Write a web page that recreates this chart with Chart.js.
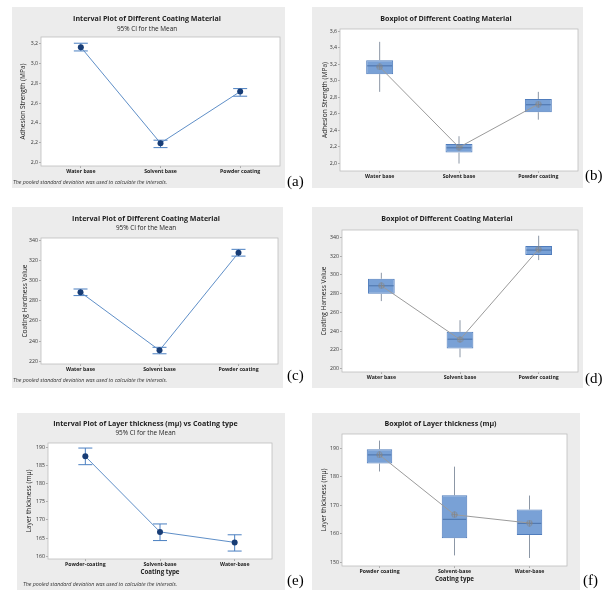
<!DOCTYPE html>
<html><head><meta charset="utf-8">
<script src="https://cdn.jsdelivr.net/npm/chart.js@4/dist/chart.umd.min.js"></script>
<style>
html,body{margin:0;padding:0;background:#fff;width:605px;height:602px;overflow:hidden;position:relative;font-family:'Open Sans',sans-serif}
.panel{position:absolute;background:#ececec}
.panel canvas{position:absolute;left:0;top:0}
.note{position:absolute;font-style:italic;font-size:5.3px;line-height:7px;color:#333;white-space:nowrap}
.lab{position:absolute;font-family:'Liberation Serif',serif;font-size:15px;line-height:16px;color:#000;white-space:nowrap}
</style></head><body>
<script>
// ---------- DATA ----------
const catsCoating = ['Water base', 'Solvent base', 'Powder coating'];
const catsThickInterval = ['Powder-coating', 'Solvent-base', 'Water-base'];
const catsThickBox = ['Powder coating', 'Solvent-base', 'Water-base'];

// (a) Adhesion strength interval plot
const adhMean = [3.167, 2.196, 2.718];
const adhCiLow = [3.129, 2.151, 2.671];
const adhCiHigh = [3.207, 2.226, 2.748];
const adhTicksA = [2.0, 2.2, 2.4, 2.6, 2.8, 3.0, 3.2];
// (b) Adhesion strength boxplot
const adhMin = [2.866, 2.00, 2.53];
const adhQ1 = [3.08, 2.133, 2.62];
const adhMed = [3.18, 2.19, 2.71];
const adhQ3 = [3.249, 2.237, 2.78];
const adhMax = [3.47, 2.33, 2.866];
const adhTicksB = [2.0, 2.2, 2.4, 2.6, 2.8, 3.0, 3.2, 3.4, 3.6];
// (c) Hardness interval plot
const hardMean = [288.4, 231.0, 327.4];
const hardCiLow = [285.1, 227.6, 324.1];
const hardCiHigh = [291.6, 234.0, 330.8];
const hardTicksC = [220, 240, 260, 280, 300, 320, 340];
// (d) Hardness boxplot
const hardMin = [272.0, 212.1, 315.7];
const hardQ1 = [279.7, 221.4, 321.1];
const hardMed = [288.3, 231.4, 326.4];
const hardQ3 = [295.8, 239.2, 330.7];
const hardMax = [302.2, 251.6, 341.7];
const hardTicksD = [200, 220, 240, 260, 280, 300, 320, 340];
// (e) Layer thickness interval plot
const thickMean = [187.6, 166.7, 163.8];
const thickCiLow = [185.3, 164.3, 161.4];
const thickCiHigh = [189.9, 168.9, 165.9];
const thickTicksE = [160, 165, 170, 175, 180, 185, 190];
// (f) Layer thickness boxplot
const thickMin = [181.8, 152.5, 151.6];
const thickQ1 = [184.6, 158.5, 159.6];
const thickMed = [187.6, 165.1, 163.7];
const thickQ3 = [189.6, 173.5, 168.5];
const thickMax = [192.6, 183.5, 173.4];
const thickTicksF = [150, 160, 170, 180, 190];

const titleInterval = 'Interval Plot of Different Coating Material';
const titleBox = 'Boxplot of Different Coating Material';
const subCI = '95% CI for the Mean';
const footNote = 'The pooled standard deviation was used to calculate the intervals.';

// ---------- STYLE ----------
const FONT = "'Open Sans', 'Noto Sans', sans-serif";
const LH = 1.2, TS = 7.1, SS = 6.4, YTS = 6.6, XTS = 6.2, TICK = 5.2;
const PADL = 2;

const meanImg = (() => {
  const c = document.createElement('canvas'); c.width = 7; c.height = 7;
  const g = c.getContext('2d');
  g.strokeStyle = '#858585'; g.lineWidth = 0.8;
  g.beginPath(); g.arc(3.5, 3.5, 2.7, 0, Math.PI * 2); g.stroke();
  g.beginPath(); g.moveTo(0.8, 3.5); g.lineTo(6.2, 3.5); g.moveTo(3.5, 0.8); g.lineTo(3.5, 6.2); g.stroke();
  return c;
})();

const plotFrame = {
  id: 'plotFrame',
  beforeDraw(chart) {
    const {ctx, chartArea: a} = chart;
    ctx.save(); ctx.fillStyle = '#fff'; ctx.fillRect(a.left, a.top, a.width, a.height); ctx.restore();
  },
  afterDraw(chart) {
    const {ctx, chartArea: a} = chart;
    ctx.save(); ctx.strokeStyle = '#bdbdbd'; ctx.lineWidth = 0.8;
    ctx.strokeRect(a.left, a.top, a.width, a.height); ctx.restore();
  }
};

const ciBars = {
  id: 'ciBars',
  beforeDatasetsDraw(chart, args, opts) {
    if (!opts || !opts.low) return;
    const {ctx, scales: {x, y}} = chart;
    ctx.save(); ctx.strokeStyle = '#4a7fc1'; ctx.lineWidth = 1;
    opts.low.forEach((lo, i) => {
      const px = x.getPixelForValue(i);
      const yl = y.getPixelForValue(lo), yh = y.getPixelForValue(opts.high[i]);
      const c = 7;
      ctx.beginPath();
      ctx.moveTo(px, yl); ctx.lineTo(px, yh);
      ctx.moveTo(px - c, yl); ctx.lineTo(px + c, yl);
      ctx.moveTo(px - c, yh); ctx.lineTo(px + c, yh);
      ctx.stroke();
    });
    ctx.restore();
  }
};

const boxParts = {
  id: 'boxParts',
  afterDatasetDraw(chart, args, opts) {
    if (args.index !== 0 || !opts || !opts.min) return;
    const {ctx, scales: {y}} = chart;
    ctx.save(); ctx.lineWidth = 1;
    args.meta.data.forEach((bar, i) => {
      const px = bar.x, hw = bar.width / 2;
      ctx.strokeStyle = '#8c97a6';
      ctx.beginPath();
      ctx.moveTo(px, y.getPixelForValue(opts.q3[i])); ctx.lineTo(px, y.getPixelForValue(opts.max[i]));
      ctx.moveTo(px, y.getPixelForValue(opts.q1[i])); ctx.lineTo(px, y.getPixelForValue(opts.min[i]));
      ctx.stroke();
      ctx.strokeStyle = '#4a72aa';
      const ym = y.getPixelForValue(opts.med[i]);
      ctx.beginPath(); ctx.moveTo(px - hw + 1, ym); ctx.lineTo(px + hw - 1, ym); ctx.stroke();
    });
    ctx.restore();
  }
};

function makePanel(P) {
  const [ox, oy, W, H] = P.gray;
  const div = document.createElement('div'); div.className = 'panel';
  Object.assign(div.style, {left: ox + 'px', top: oy + 'px', width: W + 'px', height: H + 'px'});
  const cv = document.createElement('canvas');
  cv.width = W; cv.height = H; cv.style.width = W + 'px'; cv.style.height = H + 'px';
  div.appendChild(cv); document.body.appendChild(div);

  const A = {l: P.area[0] - ox, t: P.area[1] - oy, r: P.area[2] - ox, b: P.area[3] - oy};
  const tc = P.titleY - oy;
  const tPadTop = tc - TS * LH / 2;
  const tEnd = tPadTop + TS * LH;
  let tPadBot = 0, sPadTop = 0, sPadBot = 0;
  if (P.sub) {
    const sc = P.subY - oy;
    sPadTop = Math.max(0, sc - SS * LH / 2 - tEnd);
    sPadBot = A.t - (tEnd + sPadTop + SS * LH);
  } else {
    tPadBot = A.t - tEnd;
  }
  const XH = P.xTitle ? (P.xTitleY - oy) - A.b + XTS * LH / 2 : 12;
  const ytPad = (P.yTitleX - ox) - PADL - YTS * LH / 2;

  let datasets, type, pluginOpts = {}, extra;
  if (P.kind === 'box') {
    type = 'bar';
    datasets = [
      {type: 'bar', data: P.q1.map((v, i) => [v, P.q3[i]]), backgroundColor: '#79a1d6', borderColor: '#4f7cbc',
       borderWidth: 1, borderSkipped: false, barPercentage: 0.34, categoryPercentage: 1, order: 2},
      {type: 'line', data: P.mean, borderColor: '#9b9b9b', borderWidth: 1, pointStyle: meanImg, pointRadius: 3, order: 1}
    ];
    pluginOpts.boxParts = {min: P.min, q1: P.q1, med: P.med, q3: P.q3, max: P.max};
    extra = boxParts;
  } else {
    type = 'line';
    datasets = [
      {data: P.mean, borderColor: '#5f8fc8', borderWidth: 1, pointRadius: 3, pointBackgroundColor: '#183d76',
       pointBorderWidth: 0, pointBorderColor: '#183d76'}
    ];
    pluginOpts.ciBars = {low: P.low, high: P.high};
    extra = ciBars;
  }
  const gridOpt = {display: true, offset: false, drawOnChartArea: false, drawTicks: true, tickLength: 2, color: '#9a9a9a', lineWidth: 0.8};

  new Chart(cv, {
    type,
    data: {labels: P.cats, datasets},
    options: {
      responsive: false, animation: false, events: [],
      layout: {padding: {left: PADL, right: W - A.r, top: 0, bottom: H - A.b - XH}},
      plugins: Object.assign({
        legend: {display: false}, tooltip: {enabled: false},
        title: {display: true, text: P.title, color: '#1e1e1e', font: {family: FONT, size: TS, weight: 'bold', lineHeight: LH},
                padding: {top: tPadTop, bottom: tPadBot}},
        subtitle: {display: !!P.sub, text: P.sub || '', color: '#1e1e1e', font: {family: FONT, size: SS, lineHeight: LH},
                   padding: {top: sPadTop, bottom: sPadBot}}
      }, pluginOpts),
      scales: {
        x: {
          type: 'category', offset: true, grid: gridOpt, border: {display: false},
          ticks: {padding: 0, color: '#222', autoSkip: false, maxRotation: 0,
                  font: {family: FONT, size: TICK, weight: 'bold', lineHeight: LH}},
          title: {display: !!P.xTitle, text: P.xTitle || '', color: '#222', padding: {top: 0, bottom: 0},
                  font: {family: FONT, size: XTS, weight: 'bold', lineHeight: LH}},
          afterFit(s) { s.height = XH; }
        },
        y: {
          type: 'linear', min: P.ymin, max: P.ymax, grid: gridOpt, border: {display: false},
          afterBuildTicks(s) { s.ticks = P.ticks.map(v => ({value: v})); },
          ticks: {padding: 1, color: '#333', font: {family: FONT, size: TICK, lineHeight: LH},
                  callback: v => P.comma ? Number(v).toFixed(1).replace('.', ',') : String(v)},
          title: {display: true, text: P.yTitle, color: '#222', padding: {top: ytPad, bottom: 0},
                  font: {family: FONT, size: YTS, lineHeight: LH}},
          afterFit(s) { s.width = A.l - PADL; }
        }
      }
    },
    plugins: [plotFrame, extra]
  });
}

function addText(cls, text, x, y) {
  const d = document.createElement('div'); d.className = cls; d.textContent = text;
  d.style.left = x + 'px'; d.style.top = y + 'px'; document.body.appendChild(d);
}

makePanel({kind: 'interval', gray: [12, 7, 273, 181], area: [41, 37, 280, 166], titleY: 19, subY: 29, yTitleX: 23,
  title: titleInterval, sub: subCI, yTitle: 'Adhesion Strength (MPa)', cats: catsCoating,
  mean: adhMean, low: adhCiLow, high: adhCiHigh, ymin: 1.965, ymax: 3.27, ticks: adhTicksA, comma: true});
makePanel({kind: 'box', gray: [312, 7, 271, 181], area: [340, 29, 578, 171], titleY: 19, yTitleX: 325,
  title: titleBox, yTitle: 'Adhesion Strength (MPa)', cats: catsCoating,
  min: adhMin, q1: adhQ1, med: adhMed, q3: adhQ3, max: adhMax, mean: adhMean,
  ymin: 1.91, ymax: 3.625, ticks: adhTicksB, comma: true});
makePanel({kind: 'interval', gray: [12, 207, 271, 181], area: [41, 238, 278, 364], titleY: 219.3, subY: 228.5, yTitleX: 25,
  title: titleInterval, sub: subCI, yTitle: 'Coating Hardness Value', cats: catsCoating,
  mean: hardMean, low: hardCiLow, high: hardCiHigh, ymin: 217.5, ymax: 342, ticks: hardTicksC});
makePanel({kind: 'box', gray: [312, 207, 271, 181], area: [342, 230, 580, 372], titleY: 219, yTitleX: 324,
  title: titleBox, yTitle: 'Coating Harness Value', cats: catsCoating,
  min: hardMin, q1: hardQ1, med: hardMed, q3: hardQ3, max: hardMax, mean: hardMean,
  ymin: 196.4, ymax: 347.8, ticks: hardTicksD});
makePanel({kind: 'interval', gray: [17, 413, 268, 177], area: [48, 443, 272, 559], titleY: 424.3, subY: 433.5, yTitleX: 29.3,
  xTitle: 'Coating type', xTitleY: 572.7,
  title: 'Interval Plot of Layer thickness (mμ) vs Coating type', sub: subCI, yTitle: 'Layer thickness (mμ)', cats: catsThickInterval,
  mean: thickMean, low: thickCiLow, high: thickCiHigh, ymin: 159.2, ymax: 191.3, ticks: thickTicksE});
makePanel({kind: 'box', gray: [312, 413, 268, 177], area: [342, 434, 567, 566], titleY: 424.3, yTitleX: 324,
  xTitle: 'Coating type', xTitleY: 579.3,
  title: 'Boxplot of Layer thickness (mμ)', yTitle: 'Layer thickness (mμ)', cats: catsThickBox,
  min: thickMin, q1: thickQ1, med: thickMed, q3: thickQ3, max: thickMax, mean: thickMean,
  ymin: 148.8, ymax: 194.9, ticks: thickTicksF});

addText('note', footNote, 13, 178.5);
addText('note', footNote, 13, 377.2);
addText('note', footNote, 23, 580.5);
addText('lab', '(a)', 287, 173);
addText('lab', '(b)', 585, 167);
addText('lab', '(c)', 287, 367);
addText('lab', '(d)', 585, 370);
addText('lab', '(e)', 287, 572);
addText('lab', '(f)', 583, 572);
</script>
</body></html>
